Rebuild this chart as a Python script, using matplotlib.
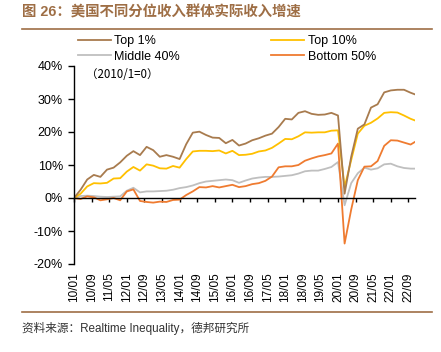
import numpy as np
import matplotlib as mpl
import matplotlib.pyplot as plt
from matplotlib.lines import Line2D

mpl.use('Agg')

# months since 2010/01, sampled quarterly (+ last month 2022/12)
months = list(range(0, 154, 3)) + [155]

top1 = [0, 2.5, 5.6, 7.0, 6.4, 8.6, 9.2, 10.8, 12.8, 14.2,
        13.0, 15.5, 14.5, 12.5, 13.0, 12.5, 11.8, 16.3, 19.8, 20.1,
        19.1, 18.3, 18.2, 16.6, 17.6, 15.9, 16.5, 17.5, 18.1, 18.9,
        19.5, 21.5, 24.0, 23.8, 25.8, 26.3, 25.5, 25.2, 25.3, 25.8,
        25.0, 1.3, 12.5, 21.0, 22.3, 27.4, 28.4, 32.0, 32.6, 32.8,
        32.8, 31.9, 31.4]
top10 = [0, 1.3, 3.5, 4.5, 4.4, 4.6, 5.9, 6.0, 8.0, 9.4,
         8.3, 10.2, 9.8, 9.0, 8.9, 9.7, 9.2, 11.8, 14.1, 14.3,
         14.3, 14.2, 14.4, 13.5, 14.3, 13.0, 13.1, 13.4, 14.1, 14.4,
         15.2, 16.5, 17.9, 17.8, 18.7, 19.9, 19.8, 19.9, 19.9, 20.4,
         20.5, 3.3, 11.5, 19.5, 21.9, 22.8, 24.1, 25.8, 26.0, 25.9,
         25.0, 24.0, 23.5]
middle40 = [0, 0.6, 0.7, 0.6, 0.4, 0.3, 0.4, 0.5, 2.2, 3.1,
            1.7, 2.0, 2.0, 2.1, 2.2, 2.5, 3.0, 3.3, 3.8, 4.5,
            5.0, 5.2, 5.4, 5.6, 5.4, 4.6, 5.3, 5.9, 6.2, 6.4,
            6.4, 6.5, 6.7, 6.9, 7.4, 8.1, 8.3, 8.3, 8.8, 9.4,
            10.9, -2.2, 4.5, 7.5, 9.2, 8.6, 9.0, 10.2, 10.4, 9.6,
            9.1, 8.9, 8.9]
bottom50 = [0, -0.3, 0.5, 0.2, -0.7, -0.4, 0.0, -0.7, 2.0, 2.6,
            -0.9, -1.2, -1.4, -1.1, -1.2, -0.6, -0.5, 0.9, 2.0, 3.3,
            3.2, 3.6, 3.2, 3.6, 4.0, 3.3, 3.6, 4.2, 4.5, 5.2,
            6.5, 9.3, 9.6, 9.6, 10.0, 11.3, 12.0, 12.6, 13.0, 13.5,
            16.5, -13.8, -3.5, 5.4, 9.5, 9.6, 11.2, 15.8, 17.5, 17.4,
            16.8, 16.2, 17.0]

x_labels = ['10/01', '10/09', '11/05', '12/01', '12/09', '13/05', '14/01',
            '14/09', '15/05', '16/01', '16/09', '17/05', '18/01', '18/09',
            '19/05', '20/01', '20/09', '21/05', '22/01', '22/09']
x_ticks = [8 * i for i in range(len(x_labels))]

y_ticks = [-20, -10, 0, 10, 20, 30, 40]

series = [('Top 1%', top1, '#A87B4E'),
          ('Middle 40%', middle40, '#BFBFBF'),
          ('Top 10%', top10, '#FFC000'),
          ('Bottom 50%', bottom50, '#EF7B30')]

LAT = ['Liberation Sans', 'Noto Sans CJK SC']
CJK = ['Noto Sans CJK SC', 'Liberation Sans']
plt.rcParams['font.family'] = LAT

W, H = 441, 352
fig = plt.figure(figsize=(W / 100, H / 100), dpi=100)
ax = fig.add_axes([74 / W, 1 - 264 / H, 341 / W, 198 / H])

# gray & bottom first so the top lines sit above
for name, vals, col in [series[1], series[3], series[2], series[0]]:
    ax.plot(months, vals, color=col, lw=1.3, label=name)

ax.set_xlim(0, 155)
ax.set_ylim(-20, 40)
ax.spines['top'].set_visible(False)
ax.spines['right'].set_visible(False)
ax.spines['bottom'].set_position(('data', 0))
ax.spines['left'].set_linewidth(1.0)
ax.spines['bottom'].set_linewidth(1.0)

ax.set_yticks(y_ticks)
ax.set_yticklabels([f'{v}%' for v in y_ticks], fontsize=9)
ax.tick_params(axis='y', direction='out', length=4, width=1, pad=4)
ax.set_xticks(x_ticks)
ax.tick_params(axis='x', direction='out', length=3, width=1, labelbottom=False)
for xt, lbl in zip(x_ticks, x_labels):
    ax.text(xt, -22.6, lbl, rotation=90, ha='center', va='top',
            fontsize=8.5, clip_on=False)

handles = [Line2D([], [], color=c, lw=1.3) for _, _, c in series]
labels = [n for n, _, _ in series]
fig.legend(handles, labels, loc='upper left', ncol=2,
           bbox_to_anchor=(78 / W, 1 - 35 / H), frameon=False,
           fontsize=9, handlelength=2.6, handletextpad=0.3,
           columnspacing=7.3, labelspacing=0.3, borderpad=0,
           borderaxespad=0)

fig.text(86 / W, 1 - 74 / H, '（2010/1=0）', fontsize=8.3, family=CJK,
         va='center', ha='left')

# title & decorations
brown = '#9E6E45'
fig.text(22 / W, 1 - 12 / H, '图 26：美国不同分位收入群体实际收入增速',
         fontsize=10.4, fontweight='bold', color=brown, family=LAT,
         va='center', ha='left')
fig.add_artist(Line2D([22 / W, 432 / W], [1 - 29 / H, 1 - 29 / H],
                      color=brown, lw=1.2))
fig.add_artist(Line2D([22 / W, 432 / W], [1 - 312 / H, 1 - 312 / H],
                      color=brown, lw=1.2))
fig.text(22 / W, 1 - 328 / H, '资料来源：Realtime Inequality，德邦研究所',
         fontsize=8.4, color='#333333', family=LAT, va='center', ha='left')

fig.savefig('out.png', dpi=100)
